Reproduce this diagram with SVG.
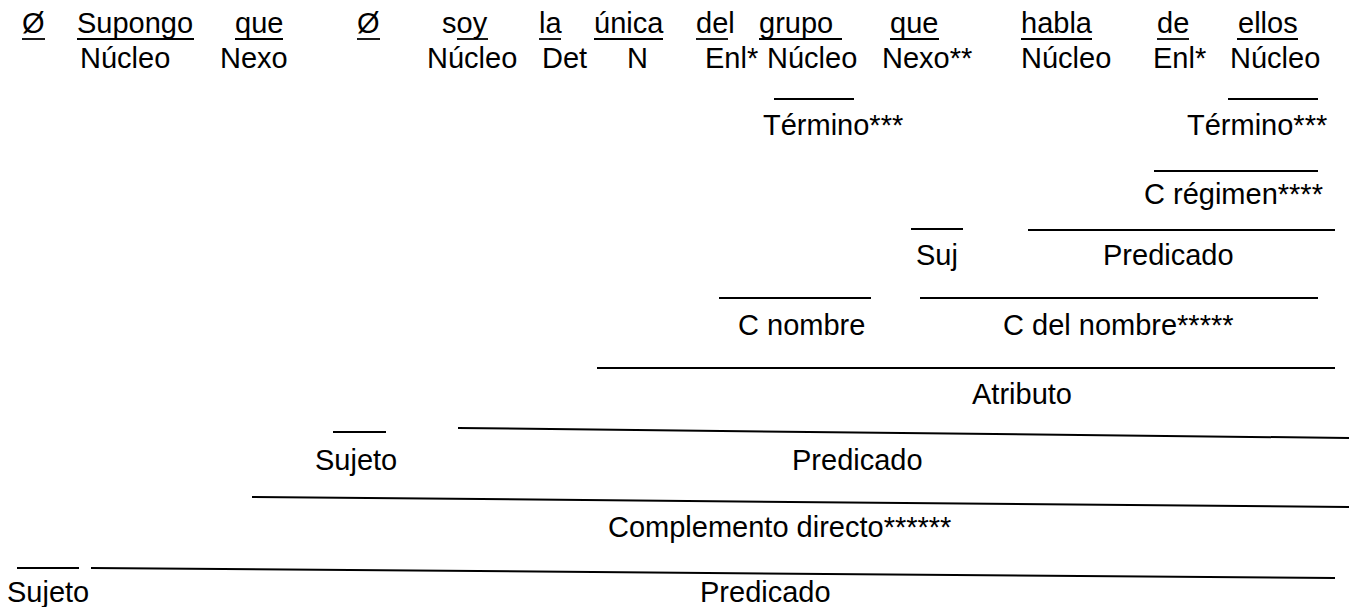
<svg xmlns="http://www.w3.org/2000/svg" width="1349" height="607" viewBox="0 0 1349 607">
<style>
text{font-family:"Liberation Sans",Arial,sans-serif;font-size:29px;fill:#000}
line{stroke:#000;stroke-width:2}
.u{stroke-width:1.8}
</style>
<rect width="1349" height="607" fill="#fff"/>
<g id="words">
<text x="22" y="33">Ø</text><line class="u" x1="22" y1="39" x2="45" y2="39"/>
<text x="77" y="33">Supongo</text><line class="u" x1="77" y1="39" x2="194" y2="39"/>
<text x="235" y="33">que</text><line class="u" x1="235" y1="39" x2="283" y2="39"/>
<text x="357" y="33">Ø</text><line class="u" x1="357" y1="39" x2="380" y2="39"/>
<text x="442" y="33">soy</text><line class="u" x1="457" y1="39" x2="488" y2="39"/>
<text x="539" y="33">la</text><line class="u" x1="539" y1="39" x2="561" y2="39"/>
<text x="594" y="33">única</text><line class="u" x1="594" y1="39" x2="663" y2="39"/>
<text x="696" y="33">del</text><line class="u" x1="696" y1="39" x2="728" y2="39"/>
<text x="759" y="33">grupo</text><line class="u" x1="759" y1="39" x2="842" y2="39"/>
<text x="890" y="33">que</text><line class="u" x1="890" y1="39" x2="939" y2="39"/>
<text x="1021" y="33">habla</text><line class="u" x1="1021" y1="39" x2="1092" y2="39"/>
<text x="1157" y="33">de</text><line class="u" x1="1157" y1="39" x2="1189" y2="39"/>
<text x="1238" y="33">ellos</text><line class="u" x1="1237" y1="39" x2="1298" y2="39"/>
</g>
<g id="functions">
<text x="80" y="68">Núcleo</text>
<text x="220" y="68">Nexo</text>
<text x="427" y="68">Núcleo</text>
<text x="542" y="68">Det</text>
<text x="627" y="68">N</text>
<text x="705" y="68">Enl*</text>
<text x="767" y="68">Núcleo</text>
<text x="882" y="68">Nexo**</text>
<text x="1021" y="68">Núcleo</text>
<text x="1153" y="68">Enl*</text>
<text x="1230" y="68">Núcleo</text>
</g>
<g id="termino1"><line x1="774" y1="99" x2="854" y2="99"/><text x="763" y="135">Término***</text></g>
<g id="termino2"><line x1="1228" y1="99" x2="1318" y2="99"/><text x="1187" y="135">Término***</text></g>
<g id="cregimen"><line x1="1154" y1="171" x2="1318" y2="171"/><text x="1144" y="204">C régimen****</text></g>
<g id="suj"><line x1="911" y1="229" x2="963" y2="229"/><text x="916" y="265">Suj</text></g>
<g id="predicado1"><line x1="1028" y1="230" x2="1335" y2="230"/><text x="1103" y="265">Predicado</text></g>
<g id="cnombre"><line x1="719" y1="298" x2="871" y2="298"/><text x="738" y="335">C nombre</text></g>
<g id="cdelnombre"><line x1="920" y1="298" x2="1318" y2="298"/><text x="1003" y="335">C del nombre*****</text></g>
<g id="atributo"><line x1="597" y1="368" x2="1335" y2="368"/><text x="972" y="404">Atributo</text></g>
<g id="sujeto1"><line x1="333" y1="432" x2="386" y2="432"/><text x="315" y="470">Sujeto</text></g>
<g id="predicado2"><line x1="458" y1="428" x2="1349" y2="438"/><text x="792" y="470">Predicado</text></g>
<g id="cd"><line x1="252" y1="497" x2="1349" y2="507"/><text x="608" y="537">Complemento directo******</text></g>
<g id="sujeto2"><line x1="17" y1="568" x2="79" y2="568"/><text x="7" y="602">Sujeto</text></g>
<g id="predicado3"><line x1="91" y1="568" x2="1335" y2="578"/><text x="700" y="602">Predicado</text></g>
</svg>
